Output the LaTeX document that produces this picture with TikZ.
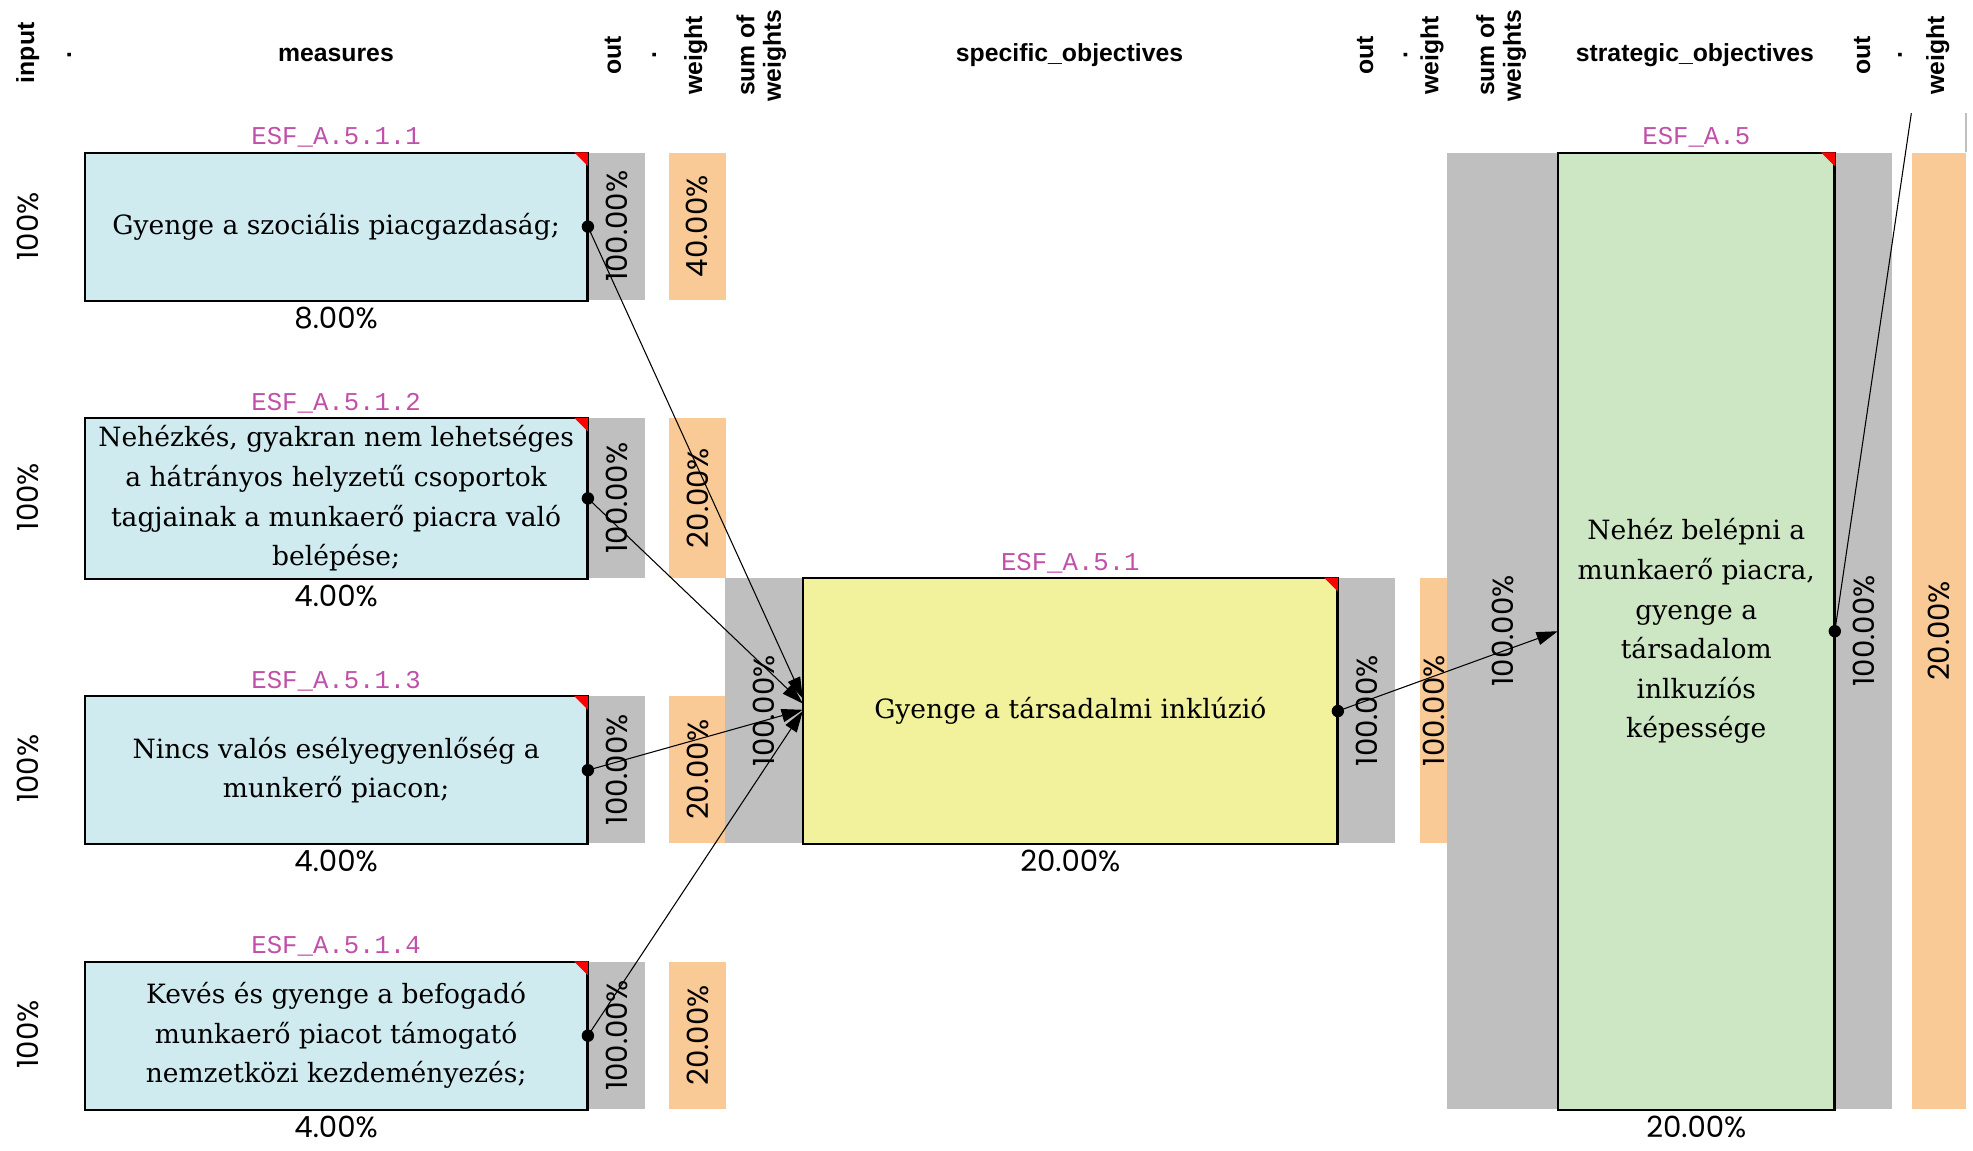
\documentclass[tikz,border=0pt]{standalone}
\usepackage{fontspec}
\setmainfont{DejaVu Serif}
\newfontfamily\pctfont{Poppins}
\newfontfamily\idfont{Liberation Mono}
\newfontfamily\headfont{Liberation Sans}
\definecolor{measureBlue}{RGB}{207, 235, 240}
\definecolor{specYellow}{RGB}{242, 242, 157}
\definecolor{stratGreen}{RGB}{205, 230, 195}
\definecolor{stripGray}{RGB}{191, 191, 191}
\definecolor{weightOrange}{RGB}{249, 201, 150}
\definecolor{idMagenta}{RGB}{192, 80, 170}
\usetikzlibrary{positioning, calc, arrows.meta}

\begin{document}
\begin{tikzpicture}[
    x=0.025cm, y=-0.025cm,
    box/.style={rectangle, draw=black, line width=0.8pt, align=center,
                inner sep=2pt, font=\fontsize{15}{22.4}\selectfont},
    mbox/.style={box, fill=measureBlue, minimum width=9.975cm, anchor=north west},
    gstrip/.style={rectangle, fill=stripGray, inner sep=0pt, anchor=north west},
    wstrip/.style={rectangle, fill=weightOrange, inner sep=0pt, anchor=north west},
    head/.style={font=\headfont\bfseries\fontsize{14}{15}\selectfont, align=center},
    vhead/.style={head, rotate=90},
    esfid/.style={font=\idfont\fontsize{14.5}{15}\selectfont, text=idMagenta, inner sep=1pt},
    pct/.style={font=\pctfont\fontsize{16.5}{17}\selectfont, inner sep=1pt},
    vpct/.style={pct, rotate=90},
    arrow/.style={-{Triangle[length=12pt, width=7.5pt]}, line width=0.6pt},
    link/.style={line width=0.6pt},
    dot/.style={fill=black},
  ]
    \useasboundingbox (0,0) rectangle (1568,914);

    % column headers
    \node[vhead] (hin) at (22,42) {input};
    \node[vhead] (hd1) at (55,44) {.};
    \node[head] (hmeas) at (267,44) {measures};
    \node[vhead] (hout1) at (487,44) {out};
    \node[vhead] (hd2) at (520,44) {.};
    \node[vhead] (hw1) at (553,44) {weight};
    \node[vhead] (hsum1) at (605,44) {sum of\\weights};
    \node[head] (hspec) at (850,44) {specific\_objectives};
    \node[vhead] (hout2) at (1085,44) {out};
    \node[vhead] (hd3) at (1117,44) {.};
    \node[vhead] (hw2) at (1138,44) {weight};
    \node[vhead] (hsum2) at (1193,44) {sum of\\weights};
    \node[head] (hstrat) at (1347,44) {strategic\_objectives};
    \node[vhead] (hout3) at (1480,44) {out};
    \node[vhead] (hd4) at (1510,44) {.};
    \node[vhead] (hw3) at (1540,44) {weight};

    % measures
    \node[mbox, minimum height=2.925cm] (m1) at (67,121)
         {Gyenge a szociális piacgazdaság;};
    \node[mbox, minimum height=3.175cm] (m2) at (67,332)
         {Nehézkés, gyakran nem lehetséges\\a hátrányos helyzetű csoportok\\tagjainak a munkaerő piacra való\\belépése;};
    \node[mbox, minimum height=2.925cm] (m3) at (67,553)
         {Nincs valós esélyegyenlőség a\\munkerő piacon;};
    \node[mbox, minimum height=2.925cm] (m4) at (67,764)
         {Kevés és gyenge a befogadó\\munkaerő piacot támogató\\nemzetközi kezdeményezés;};

    \node[gstrip, minimum width=1.125cm, minimum height=2.925cm] (m1out) at (m1.north east) {};
    \node[gstrip, minimum width=1.125cm, minimum height=3.175cm] (m2out) at (m2.north east) {};
    \node[gstrip, minimum width=1.125cm, minimum height=2.925cm] (m3out) at (m3.north east) {};
    \node[gstrip, minimum width=1.125cm, minimum height=2.925cm] (m4out) at (m4.north east) {};
    \node[wstrip, minimum width=1.15cm, minimum height=2.925cm] (m1w) at (531,121) {};
    \node[wstrip, minimum width=1.15cm, minimum height=3.175cm] (m2w) at (531,332) {};
    \node[wstrip, minimum width=1.15cm, minimum height=2.925cm] (m3w) at (531,553) {};
    \node[wstrip, minimum width=1.15cm, minimum height=2.925cm] (m4w) at (531,764) {};

    % specific objective
    \node[gstrip, minimum width=1.55cm, minimum height=5.275cm] (specin) at (576,459) {};
    \node[box, fill=specYellow, minimum width=10.6cm, minimum height=5.275cm,
          anchor=north west] (spec) at (638,459) {Gyenge a társadalmi inklúzió};
    \node[gstrip, minimum width=1.125cm, minimum height=5.275cm] (specout) at (spec.north east) {};
    \node[wstrip, minimum width=0.55cm, minimum height=5.275cm] (specw) at (1128,459) {};

    % strategic objective
    \node[gstrip, minimum width=2.2cm, minimum height=19cm] (stratin) at (1150,121) {};
    \node[box, fill=stratGreen, minimum width=5.475cm, minimum height=19cm,
          anchor=north west] (strat) at (1238,121)
         {Nehéz belépni a\\munkaerő piacra,\\gyenge a\\társadalom\\inlkuzíós\\képessége};
    \node[gstrip, minimum width=1.125cm, minimum height=19cm] (stratout) at (strat.north east) {};
    \node[wstrip, minimum width=1.075cm, minimum height=19cm] (stratw) at (1519,121) {};
    \draw[stripGray, line width=0.8pt] (stratw.north east) -- +(0,-31);

    % redraw boxes above the strips
    \foreach \b in {m1,m2,m3,m4,spec,strat}
      \draw[line width=0.8pt] (\b.north west) rectangle (\b.south east);
    \foreach \b in {m1,m2,m3,m4,spec,strat}
      \fill[red] (\b.north east) -- ++(-11,0) -- ++(11,11) -- cycle;

    % ids
    \node[esfid, above=1.5pt of m1] (m1id) {ESF\_A.5.1.1};
    \node[esfid, above=1.5pt of m2] (m2id) {ESF\_A.5.1.2};
    \node[esfid, above=1.5pt of m3] (m3id) {ESF\_A.5.1.3};
    \node[esfid, above=1.5pt of m4] (m4id) {ESF\_A.5.1.4};
    \node[esfid, above=1.5pt of spec] (specid) {ESF\_A.5.1};
    \node[esfid, above=1.5pt of strat] (stratid) {ESF\_A.5};

    % percentages
    \node[pct, below=2pt of m1] {8.00\%};
    \node[pct, below=2pt of m2] {4.00\%};
    \node[pct, below=2pt of m3] {4.00\%};
    \node[pct, below=2pt of m4] {4.00\%};
    \node[pct, below=2pt of spec] {20.00\%};
    \node[pct, below=2pt of strat] {20.00\%};

    \node[vpct] at (22,180) {100\%};
    \node[vpct] at (22,395) {100\%};
    \node[vpct] at (22,611) {100\%};
    \node[vpct] at (22,822) {100\%};
    \node[vpct] at (m1out) {100.00\%};
    \node[vpct] at (m2out) {100.00\%};
    \node[vpct] at (m3out) {100.00\%};
    \node[vpct] at (m4out) {100.00\%};
    \node[vpct] at (m1w) {40.00\%};
    \node[vpct] at (m2w) {20.00\%};
    \node[vpct] at (m3w) {20.00\%};
    \node[vpct] at (m4w) {20.00\%};
    \node[vpct] at (specin) {100.00\%};
    \node[vpct] at (specout) {100.00\%};
    \node[vpct] at (specw) {100.00\%};
    \node[vpct] at (stratin) {100.00\%};
    \node[vpct] at (stratout) {100.00\%};
    \node[vpct] at (stratw) {20.00\%};

    % links
    \coordinate (up) at (1519,90);
    \draw[arrow] (m1.east) -- ($(spec.west)+(0,-10)$);
    \draw[arrow] (m2.east) -- ($(spec.west)+(0,-6)$);
    \draw[arrow] (m3.east) -- ($(spec.west)+(0,-1)$);
    \draw[arrow] (m4.east) -- (spec.west);
    \draw[arrow] (spec.east) -- (strat.west);
    \draw[link] (strat.east) -- (up);
    \foreach \b in {m1,m2,m3,m4,spec,strat}
      \fill[dot] (\b.east) circle (3.5pt);
  \end{tikzpicture}
\end{document}
